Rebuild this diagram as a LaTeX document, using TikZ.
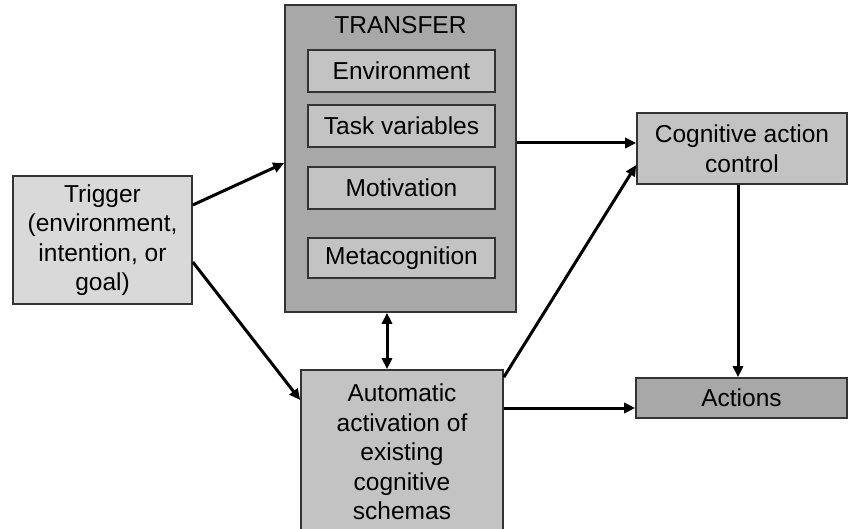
\documentclass[tikz,border=0pt]{standalone}
\usepackage{fontspec}
\setmainfont{Liberation Sans}
\usetikzlibrary{arrows.meta}
\definecolor{lightbox}{HTML}{D9D9D9}
\definecolor{midbox}{HTML}{C3C3C3}
\definecolor{darkbox}{HTML}{A8A8A8}
\definecolor{edgecol}{HTML}{333333}
\tikzset{
  box/.style={draw=edgecol, line width=1.6pt, inner sep=0pt, align=center,
    font=\fontsize{24.5}{29.5}\selectfont, text=black},
  conn/.style={line width=3pt, -{Triangle[length=11pt,width=10pt]}},
  dconn/.style={line width=3pt, {Triangle[length=11pt,width=10pt]}-{Triangle[length=11pt,width=10pt]}}
}
\begin{document}
\begin{tikzpicture}[x=1pt,y=-1pt]
\useasboundingbox[fill=white] (0,0) rectangle (862,529);
\node[box, fill=lightbox, minimum width=179pt, minimum height=128pt] (trig) at (102.5,240)
  {Trigger\\(environment,\\intention, or\\goal)};
\node[box, fill=darkbox, minimum width=231pt, minimum height=307pt] (transfer) at (400.5,158.5) {};
\node[box, draw=none, fill=none, anchor=base] (ttl) at (400.5,34) {TRANSFER};
\node[box, fill=midbox, minimum width=187pt, minimum height=42pt] (env) at (401.5,71) {Environment};
\node[box, fill=midbox, minimum width=187pt, minimum height=42pt] (task) at (401.5,126) {Task variables};
\node[box, fill=midbox, minimum width=187pt, minimum height=42pt] (mot) at (401.5,188) {Motivation};
\node[box, fill=midbox, minimum width=187pt, minimum height=40pt] (meta) at (401.5,258) {Metacognition};
\node[box, fill=midbox, minimum width=210pt, minimum height=71pt] (cog) at (742,148.5)
  {Cognitive action\\control};
\node[box, fill=darkbox, minimum width=211pt, minimum height=40pt] (act) at (741.5,398) {Actions};
\node[box, fill=midbox, minimum width=202pt, minimum height=164pt] (auto) at (402,452)
  {Automatic\\activation of\\existing\\cognitive\\schemas};
\draw[conn] ([yshift=35pt]trig.east) -- ([yshift=-4.5pt]transfer.west);
\draw[conn] ([yshift=-22pt]trig.east) -- ([yshift=52pt]auto.west);
\draw[dconn] ([xshift=-13.5pt]transfer.south) -- ([xshift=-15pt]auto.north);
\draw[conn] ([yshift=15.5pt]transfer.east) -- ([yshift=5.5pt]cog.west);
\draw[conn] ([yshift=-8pt]auto.north east) -- ([yshift=-16.5pt]cog.west);
\draw[conn] ([yshift=44pt]auto.east) -- ([yshift=-10pt]act.west);
\draw[conn] ([xshift=-4pt]cog.south) -- ([xshift=-3.5pt]act.north);
\end{tikzpicture}
\end{document}
